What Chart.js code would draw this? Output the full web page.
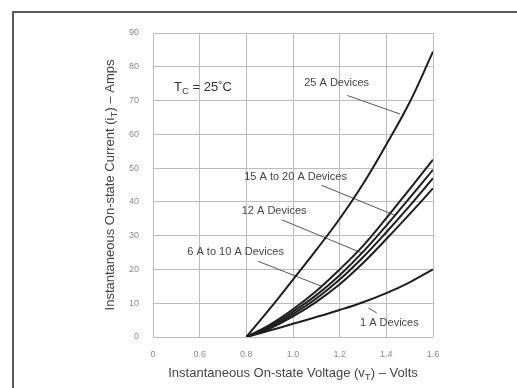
<!DOCTYPE html>
<html>
<head>
<meta charset="utf-8">
<script src="https://cdn.jsdelivr.net/npm/chart.js@4.4.1/dist/chart.umd.min.js"></script>
<style>
  html, body { margin: 0; padding: 0; background: #fff; }
  #wrap { width: 517px; height: 388px; position: relative; }
</style>
</head>
<body>
<div id="wrap"><canvas id="grafico"></canvas></div>
<script>
// Curvas on-state: voltaje (V) contra corriente (A)
const voltaje = [0.8, 0.9, 1.0, 1.1, 1.2, 1.3, 1.4, 1.5, 1.6];
const corriente25A = [0, 8.3, 17, 25.8, 35, 45.3, 57, 69.5, 84.5];
const corrienteA = [0, 3.6, 8.2, 13.6, 20, 27, 35.2, 43.8, 52.5];
const corrienteB = [0, 3.2, 7.5, 12.4, 18.3, 25.2, 33, 41.2, 49.5];
const corrienteC = [0, 2.8, 6.8, 11.4, 17, 23.6, 31, 38.8, 47];
const corrienteD = [0, 2.5, 6.1, 10.4, 15.6, 21.9, 29, 36.4, 44];
const corriente1A = [0, 1.9, 3.9, 5.9, 8, 10.3, 13, 16.2, 20];

// Ejes
const etiquetasX = ['0', '0.6', '0.8', '1.0', '1.2', '1.4', '1.6'];
const etiquetasY = ['0', '10', '20', '30', '40', '50', '60', '70', '80', '90'];

// Textos de las curvas y sus líneas guía (en V / A)
const textos = [
  { texto: '25 A Devices', v: 1.187, a: 75.2, desde: [1.233, 71.5], hasta: [1.459, 66.0] },
  { texto: '15 A to 20 A Devices', v: 1.011, a: 47.4, desde: [1.123, 44.9], hasta: [1.441, 35.9] },
  { texto: '12 A Devices', v: 0.919, a: 37.4, desde: [0.952, 34.7], hasta: [1.294, 24.9] },
  { texto: '6 A to 10 A Devices', v: 0.754, a: 25.3, desde: [0.851, 22.4], hasta: [1.123, 15.0] },
  { texto: '1 A Devices', v: 1.413, a: 4.3, desde: [1.323, 8.6], hasta: [1.359, 7.1] }
];

const FUENTE = '"Liberation Sans", Arial, sans-serif';

function puntos(serie) {
  return voltaje.map((v, i) => ({ x: v, y: serie[i] }));
}

function curva(serie) {
  return {
    data: puntos(serie),
    borderColor: '#1e1e1e',
    borderWidth: 2,
    pointRadius: 0,
    tension: 0.4,
    fill: false
  };
}

function guia(t) {
  return {
    data: [{ x: t.desde[0], y: t.desde[1] }, { x: t.hasta[0], y: t.hasta[1] }],
    borderColor: '#555',
    borderWidth: 1,
    pointRadius: 0,
    fill: false
  };
}

// texto con subíndices: partes = [[texto, esSub], ...]
function textoSub(ctx, partes, x, y, tam) {
  let ancho = 0;
  partes.forEach(p => {
    ctx.font = (p[1] ? tam * 0.75 : tam) + 'px ' + FUENTE;
    ancho += ctx.measureText(p[0]).width;
  });
  let cx = x - ancho / 2;
  partes.forEach(p => {
    ctx.font = (p[1] ? tam * 0.75 : tam) + 'px ' + FUENTE;
    ctx.fillText(p[0], cx, p[1] ? y + tam * 0.3 : y);
    cx += ctx.measureText(p[0]).width;
  });
}

const decoracion = {
  id: 'decoracion',
  beforeDraw(chart) {
    const ctx = chart.ctx;
    ctx.save();
    ctx.strokeStyle = '#5a5a5a';
    ctx.lineWidth = 2;
    ctx.beginPath();
    ctx.moveTo(13, 388);
    ctx.lineTo(13, 12);
    ctx.lineTo(517, 12);
    ctx.stroke();
    ctx.restore();
  },
  afterDatasetsDraw(chart) {
    const ctx = chart.ctx;
    const sx = chart.scales.x, sy = chart.scales.y;
    const area = chart.chartArea;
    ctx.save();
    ctx.fillStyle = '#444';
    ctx.textBaseline = 'middle';
    ctx.textAlign = 'center';
    ctx.font = '11px ' + FUENTE;
    textos.forEach(t => {
      ctx.fillText(t.texto, sx.getPixelForValue(t.v), sy.getPixelForValue(t.a));
    });

    ctx.textAlign = 'left';
    ctx.fillStyle = '#333';
    textoSub(ctx, [['T', false], ['C', true], [' = 25˚C', false]],
      sx.getPixelForValue(0.614), sy.getPixelForValue(73.8), 13);

    // títulos de ejes
    ctx.fillStyle = '#444';
    textoSub(ctx, [['Instantaneous On-state Voltage (v', false], ['T', true], [') – Volts', false]],
      (area.left + area.right) / 2, 373, 13);
    ctx.translate(110, (area.top + area.bottom) / 2);
    ctx.rotate(-Math.PI / 2);
    textoSub(ctx, [['Instantaneous On-state Current (i', false], ['T', true], [') – Amps', false]],
      0, 0, 13);
    ctx.restore();
  }
};

new Chart(document.getElementById('grafico'), {
  type: 'line',
  data: {
    datasets: [
      curva(corriente25A),
      curva(corrienteA),
      curva(corrienteB),
      curva(corrienteC),
      curva(corrienteD),
      curva(corriente1A),
      ...textos.map(guia)
    ]
  },
  options: {
    responsive: true,
    maintainAspectRatio: false,
    animation: false,
    layout: { padding: { top: 33, right: 84, left: 0, bottom: 0 } },
    plugins: {
      legend: { display: false },
      tooltip: { enabled: false }
    },
    scales: {
      x: {
        type: 'linear',
        min: 0.4,
        max: 1.6,
        afterFit(s) { s.height = 51; },
        afterBuildTicks(s) {
          s.ticks = etiquetasX.map((_, i) => ({ value: 0.4 + i * 0.2 }));
        },
        grid: { color: '#bdbdbd', lineWidth: 1, drawTicks: false },
        border: { display: false },
        ticks: {
          padding: 12,
          color: '#8a8a8a',
          font: { family: FUENTE, size: 9 },
          callback: (v, i) => etiquetasX[i]
        }
      },
      y: {
        min: 0,
        max: 90,
        afterFit(s) { s.width = 153; },
        afterBuildTicks(s) {
          s.ticks = etiquetasY.map((_, i) => ({ value: i * 10 }));
        },
        grid: { color: '#bdbdbd', lineWidth: 1, drawTicks: false },
        border: { display: false },
        ticks: {
          padding: 14,
          color: '#8a8a8a',
          font: { family: FUENTE, size: 9 },
          callback: (v, i) => etiquetasY[i]
        }
      }
    }
  },
  plugins: [decoracion]
});
</script>
</body>
</html>
